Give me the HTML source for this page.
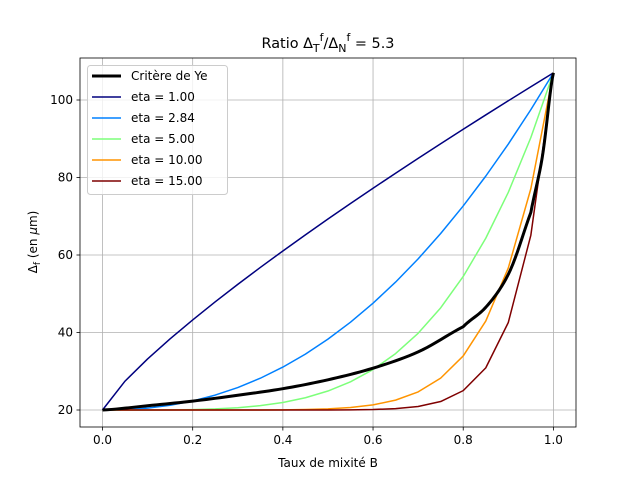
<!DOCTYPE html>
<html><head><meta charset="utf-8"><style>
body{margin:0;background:#fff}
svg{display:block;font-family:"DejaVu Sans","Liberation Sans",sans-serif}
</style></head><body>
<svg id="s" width="640" height="480" viewBox="0 0 640 480" xmlns="http://www.w3.org/2000/svg">
<rect width="640" height="480" fill="#fff"/>
<g id="grid" stroke="#b0b0b0" stroke-width="0.8"></g>
<g id="curves" fill="none" stroke-linejoin="round"></g>
<rect x="80" y="58" width="496" height="369" fill="none" stroke="#000" stroke-width="0.8"/>
<g id="ticks" stroke="#000" stroke-width="0.8"></g>
<g id="labels" font-size="12" fill="#000"></g>
<text x="328" y="48" font-size="14.4" text-anchor="middle">Ratio Δ<tspan font-size="11" dy="4">T</tspan><tspan font-size="11" dy="-11">f</tspan><tspan dy="7">/Δ</tspan><tspan font-size="11" dy="4">N</tspan><tspan font-size="11" dy="-11">f</tspan><tspan dy="7"> = 5.3</tspan></text>
<text x="328" y="467" font-size="12" text-anchor="middle">Taux de mixité B</text>
<text transform="translate(37,242) rotate(-90)" font-size="12" text-anchor="middle">Δ<tspan font-size="9" dy="3">f</tspan><tspan dy="-3"> (en </tspan><tspan font-style="italic">μ</tspan>m)</text>
<g>
<rect x="87.5" y="65.5" width="140" height="129" rx="3" fill="#fff" fill-opacity="0.8" stroke="#ccc"/>
<g font-size="12">
<line x1="92" y1="76" x2="121" y2="76" stroke="#000" stroke-width="3"/><text x="131" y="80">Critère de Ye</text>
<line x1="92" y1="97" x2="121" y2="97" stroke="#00007f" stroke-width="1.5"/><text x="131" y="101">eta = 1.00</text>
<line x1="92" y1="118" x2="121" y2="118" stroke="#0080ff" stroke-width="1.5"/><text x="131" y="122">eta = 2.84</text>
<line x1="92" y1="139" x2="121" y2="139" stroke="#7dff7a" stroke-width="1.5"/><text x="131" y="143">eta = 5.00</text>
<line x1="92" y1="160" x2="121" y2="160" stroke="#ff9400" stroke-width="1.5"/><text x="131" y="164">eta = 10.00</text>
<line x1="92" y1="181" x2="121" y2="181" stroke="#7f0000" stroke-width="1.5"/><text x="131" y="185">eta = 15.00</text>
</g></g>
</svg>
<script>
var NS="http://www.w3.org/2000/svg";
function X(x){return 102.5+x*450.9}
function Y(y){return 410-(y-20)*3.875}
function el(p,t,a,txt){var e=document.createElementNS(NS,t);for(var k in a)e.setAttribute(k,a[k]);if(txt)e.textContent=txt;document.getElementById(p).appendChild(e);}
for(var i=0;i<=5;i++){var x=X(i*0.2);el("grid","line",{x1:x,y1:58,x2:x,y2:427});el("ticks","line",{x1:x,y1:427,x2:x,y2:430.5});el("labels","text",{x:x,y:444,"text-anchor":"middle"},(i*0.2).toFixed(1));}
for(var v=20;v<=100;v+=20){var y=Y(v);el("grid","line",{x1:80,y1:y,x2:576,y2:y});el("ticks","line",{x1:76.5,y1:y,x2:80,y2:y});el("labels","text",{x:73,y:y+4,"text-anchor":"end"},v);}
var series=[[0.82,"#00007f"],[2.25,"#0080ff"],[4.15,"#7dff7a"],[8.2,"#ff9400"],[12.8,"#7f0000"]];
series.forEach(function(s){var d="";for(var i=0;i<=20;i++){var x=i/20;var y=20+87*Math.pow(x,s[0]);d+=(i?"L":"M")+X(x).toFixed(2)+","+Y(y).toFixed(2);}el("curves","path",{d:d,stroke:s[1],"stroke-width":1.5});});
var ye=[[0,20],[0.1,21.1],[0.2,22.3],[0.3,23.8],[0.4,25.5],[0.5,27.8],[0.6,30.8],[0.7,35],[0.8,41.5],[0.85,46.5],[0.9,55],[0.95,71],[0.975,85],[1,107]];
// smooth via Catmull-Rom on log values
var pts=ye.map(function(p){return [p[0],Math.log(p[1])]});
var d="";var first=true;
for(var i=0;i<pts.length-1;i++){
 var p0=pts[Math.max(i-1,0)],p1=pts[i],p2=pts[i+1],p3=pts[Math.min(i+2,pts.length-1)];
 for(var k=0;k<=10;k++){var t=k/10;if(i>0&&k==0)continue;
  var t2=t*t,t3=t2*t;
  var f=function(a,b,c,e){return 0.5*((2*b)+(-a+c)*t+(2*a-5*b+4*c-e)*t2+(-a+3*b-3*c+e)*t3)};
  var x=p1[0]+(p2[0]-p1[0])*t;var y=Math.exp(f(p0[1],p1[1],p2[1],p3[1]));
  d+=(first?"M":"L")+X(x).toFixed(2)+","+Y(y).toFixed(2);first=false;}
}
el("curves","path",{d:d,stroke:"#000","stroke-width":3});
</script>
</body></html>
